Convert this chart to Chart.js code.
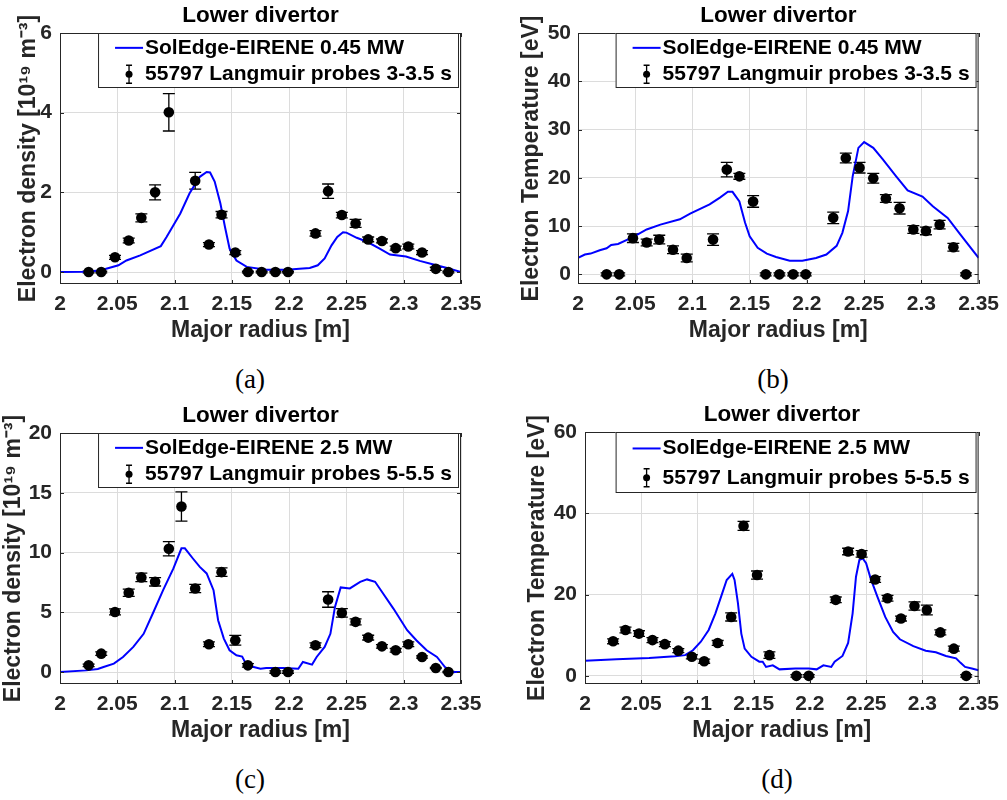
<!DOCTYPE html>
<html>
<head>
<meta charset="utf-8">
<title>Lower divertor profiles</title>
<script src="https://cdn.jsdelivr.net/npm/chart.js@4.4.1/dist/chart.umd.min.js"></script>
<style>
  body { margin: 0; background: #fff; }
  #wrap { position: relative; width: 1007px; height: 800px; overflow: hidden; }
  canvas { position: absolute; }
  .cap { position: absolute; font-family: "Liberation Serif", "DejaVu Serif", serif; font-size: 27px; color: #000; transform: translate(-50%, -50%); }
</style>
</head>
<body>
<div id="wrap">
  <canvas id="pa" width="500" height="360" style="left:0;top:0"></canvas>
  <canvas id="pb" width="507" height="360" style="left:500px;top:0"></canvas>
  <canvas id="pc" width="500" height="360" style="left:0;top:400px"></canvas>
  <canvas id="pd" width="507" height="360" style="left:500px;top:400px"></canvas>
  <div class="cap" style="left:250px;top:379px">(a)</div>
  <div class="cap" style="left:773px;top:379px">(b)</div>
  <div class="cap" style="left:250px;top:779px">(c)</div>
  <div class="cap" style="left:777px;top:779px">(d)</div>
</div>
<script>
// probe positions (major radius, m)
const probeR = [2.025, 2.036, 2.048, 2.060, 2.071, 2.083, 2.095, 2.106, 2.118, 2.130, 2.141, 2.153, 2.164, 2.176,
                2.188, 2.199, 2.211, 2.223, 2.234, 2.246, 2.258, 2.269, 2.281, 2.293, 2.304, 2.316, 2.328, 2.339];

// (a) density, 3-3.5 s
const neA    = [0, 0, 0.37, 0.79, 1.36, 2.0, 4.01, null, 2.29, 0.69, 1.44, 0.49, 0, 0, 0, 0, null, 0.97, 2.03, 1.43, 1.22, 0.82, 0.78, 0.6, 0.64, 0.49, 0.08, 0];
const neErrA = [0.02, 0.02, 0.05, 0.06, 0.1, 0.19, 0.47, null, 0.21, 0.05, 0.08, 0.05, 0.02, 0.02, 0.02, 0.02, null, 0.07, 0.18, 0.07, 0.1, 0.06, 0.05, 0.05, 0.06, 0.05, 0.04, 0.02];
// (b) temperature, 3-3.5 s
const teB    = [0, 0, 7.5, 6.6, 7.2, 5.1, 3.4, null, 7.2, 21.7, 20.3, 15.1, 0, 0, 0, 0, null, 11.7, 24.1, 22.1, 19.9, 15.7, 13.7, 9.3, 9.0, 10.3, 5.6, 0];
const teErrB = [0.3, 0.3, 0.9, 0.7, 0.9, 0.8, 0.8, null, 1.2, 1.5, 0.6, 1.2, 0.3, 0.3, 0.3, 0.3, null, 1.2, 1.0, 1.1, 1.0, 0.8, 1.2, 0.8, 0.8, 0.9, 0.8, 0.3];
// (c) density, 5-5.5 s
const neC    = [0.56, 1.54, 5.03, 6.63, 7.92, 7.55, 10.32, 13.85, 6.99, 2.32, 8.36, 2.66, 0.56, null, 0, 0, null, 2.24, 6.07, 4.95, 4.2, 2.88, 2.15, 1.82, 2.32, 1.26, 0.34, 0];
const neErrC = [0.1, 0.15, 0.25, 0.3, 0.35, 0.35, 0.6, 1.22, 0.35, 0.2, 0.35, 0.4, 0.15, null, 0.1, 0.1, null, 0.2, 0.65, 0.35, 0.25, 0.2, 0.15, 0.15, 0.2, 0.1, 0.05, 0.05];
// (d) temperature, 5-5.5 s
const teD    = [8.5, 11.3, 10.4, 8.8, 7.8, 6.2, 4.7, 3.6, 8.1, 14.5, 36.9, 24.8, 5.1, null, 0, 0, null, 18.7, 30.6, 30.0, 23.7, 19.1, 14.1, 17.2, 16.2, 10.7, 6.7, 0];
const teErrD = [0.6, 0.7, 0.7, 0.6, 0.6, 0.5, 0.5, 0.5, 0.6, 1.0, 1.1, 1.0, 0.8, null, 0.3, 0.3, null, 0.7, 0.8, 0.8, 0.7, 0.7, 0.6, 1.0, 1.2, 0.6, 0.6, 0.3];

// SolEdge-EIRENE profiles
const simRA  = [2.0, 2.02, 2.035, 2.051, 2.058, 2.07, 2.088, 2.093, 2.105, 2.113, 2.122, 2.128, 2.131, 2.135, 2.14, 2.144, 2.148, 2.154, 2.163, 2.18,
                2.198, 2.209, 2.218, 2.225, 2.231, 2.237, 2.242, 2.247, 2.25, 2.259, 2.268, 2.279, 2.288, 2.302, 2.314, 2.326, 2.337, 2.35];
const simNeA = [0, 0.01, 0.04, 0.17, 0.29, 0.42, 0.65, 0.88, 1.47, 1.97, 2.39, 2.51, 2.5, 2.27, 1.72, 1.13, 0.59, 0.29, 0.13, 0.06,
                0.06, 0.08, 0.1, 0.17, 0.34, 0.67, 0.88, 1.0, 0.99, 0.86, 0.76, 0.59, 0.44, 0.39, 0.28, 0.19, 0.11, 0];
const simRB  = [2.0, 2.006, 2.011, 2.019, 2.025, 2.029, 2.035, 2.048, 2.06, 2.072, 2.089, 2.098, 2.115, 2.124, 2.131, 2.135, 2.141, 2.146, 2.15, 2.157,
                2.165, 2.173, 2.185, 2.196, 2.208, 2.217, 2.226, 2.231, 2.236, 2.24, 2.245, 2.25, 2.258, 2.266, 2.278, 2.288, 2.301, 2.31, 2.323, 2.334, 2.35];
const simTeB = [3.4, 4.1, 4.3, 5.0, 5.4, 6.1, 6.3, 7.7, 9.3, 10.3, 11.4, 12.6, 14.5, 15.9, 17.1, 17.1, 15.1, 10.7, 7.9, 5.5,
                4.3, 3.6, 2.8, 2.8, 3.4, 4.1, 5.9, 8.6, 13.1, 20.3, 26.2, 27.4, 26.2, 23.9, 20.3, 17.4, 16.1, 14.1, 11.7, 8.3, 3.4];
const simRC  = [2.0, 2.023, 2.033, 2.038, 2.047, 2.055, 2.064, 2.073, 2.081, 2.09, 2.099, 2.106, 2.109, 2.116, 2.122, 2.128, 2.134, 2.138, 2.143, 2.148,
                2.154, 2.159, 2.163, 2.169, 2.175, 2.18, 2.195, 2.208, 2.212, 2.22, 2.224, 2.231, 2.236, 2.24, 2.245, 2.253, 2.262, 2.268, 2.275, 2.282,
                2.291, 2.303, 2.311, 2.32, 2.329, 2.336, 2.343, 2.35];
const simNeC = [0, 0.14, 0.25, 0.42, 0.7, 1.26, 2.1, 3.2, 4.9, 6.85, 8.67, 10.35, 10.35, 9.5, 8.8, 8.25, 6.85, 4.34, 2.8, 1.82,
                1.4, 1.3, 0.56, 0.42, 0.28, 0.34, 0.34, 0.28, 0.84, 0.62, 1.26, 2.1, 3.2, 5.45, 7.08, 7.0, 7.55, 7.75, 7.55, 6.57,
                5.31, 3.5, 2.66, 1.82, 1.26, 0.42, 0, 0];
const simRD  = [2.0, 2.028, 2.057, 2.08, 2.089, 2.096, 2.103, 2.11, 2.116, 2.122, 2.126, 2.131, 2.133, 2.136, 2.139, 2.142, 2.148, 2.155, 2.158, 2.161,
                2.167, 2.173, 2.187, 2.199, 2.206, 2.212, 2.219, 2.222, 2.229, 2.234, 2.238, 2.241, 2.244, 2.247, 2.25, 2.254, 2.26, 2.267, 2.274, 2.28,
                2.292, 2.303, 2.312, 2.321, 2.33, 2.334, 2.338, 2.344, 2.35];
const simTeD = [3.7, 4.1, 4.4, 4.8, 5.1, 6.3, 8.4, 11.3, 15.4, 20.3, 23.6, 25.1, 23.6, 17.9, 10.4, 6.7, 4.7, 3.5, 3.5, 2.2,
                2.6, 1.6, 1.8, 1.8, 1.6, 2.6, 2.2, 3.5, 4.9, 8.1, 15.4, 24.4, 28.5, 28.9, 27.7, 24.0, 19.5, 14.5, 10.8, 9.0,
                7.3, 6.2, 5.8, 4.9, 4.3, 3.2, 2.2, 1.8, 1.4];

// tick labels
const xTicks = [2, 2.05, 2.1, 2.15, 2.2, 2.25, 2.3, 2.35];
const yTicksNeLow = [0, 2, 4, 6];
const yTicksTeLow = [0, 10, 20, 30, 40, 50];
const yTicksNeHigh = [0, 5, 10, 15, 20];
const yTicksTeHigh = [0, 20, 40, 60];

const titleText = 'Lower divertor';
const xLabel = 'Major radius [m]';
const neLabel = 'Electron density [10\u00B9\u2079 m\u207B\u00B3]';
const teLabel = 'Electron Temperature [eV]';

const FONT = "'Liberation Sans', Arial, Helvetica, sans-serif";
Chart.defaults.font.family = FONT;

const decor = {
    id: 'decor',
    beforeDatasetsDraw(chart) {
        // error bars under the markers
        const ctx = chart.ctx;
        const meta = chart.getDatasetMeta(0);
        const ys = chart.scales.y;
        ctx.save();
        ctx.strokeStyle = '#000';
        ctx.lineWidth = 1.3;
        chart.data.datasets[0].data.forEach((d, i) => {
            const px = meta.data[i].x;
            const y1 = ys.getPixelForValue(d.y - d.e);
            const y2 = ys.getPixelForValue(d.y + d.e);
            ctx.beginPath();
            ctx.moveTo(px, y1); ctx.lineTo(px, y2);
            ctx.moveTo(px - 6, y1); ctx.lineTo(px + 6, y1);
            ctx.moveTo(px - 6, y2); ctx.lineTo(px + 6, y2);
            ctx.stroke();
        });
        ctx.restore();
    },
    afterDraw(chart, args, opts) {
        const ctx = chart.ctx;
        const ca = chart.chartArea;
        const xs = chart.scales.x, ys = chart.scales.y;
        ctx.save();

        // axes box with inward ticks
        ctx.strokeStyle = '#262626';
        ctx.lineWidth = 1;
        ctx.strokeRect(ca.left + 0.5, ca.top + 0.5, ca.right - ca.left - 1, ca.bottom - ca.top - 1);
        ctx.beginPath();
        xs.ticks.forEach(t => {
            const px = Math.round(xs.getPixelForValue(t.value)) + 0.5;
            ctx.moveTo(px, ca.bottom); ctx.lineTo(px, ca.bottom - 4);
            ctx.moveTo(px, ca.top); ctx.lineTo(px, ca.top + 4);
        });
        ys.ticks.forEach(t => {
            const py = Math.round(ys.getPixelForValue(t.value)) + 0.5;
            ctx.moveTo(ca.left, py); ctx.lineTo(ca.left + 4, py);
            ctx.moveTo(ca.right, py); ctx.lineTo(ca.right - 4, py);
        });
        ctx.stroke();

        // title
        ctx.fillStyle = '#000';
        ctx.font = 'bold 22.5px ' + FONT;
        ctx.textAlign = 'center';
        ctx.textBaseline = 'middle';
        ctx.fillText(titleText, (ca.left + ca.right) / 2, ca.top - 17);

        // legend
        const sim = chart.data.datasets[1].label;
        const exp = chart.data.datasets[0].label;
        ctx.font = 'bold 21px ' + FONT;
        const tw = Math.max(ctx.measureText(sim).width, ctx.measureText(exp).width);
        const h = opts.legendH;
        const right = ca.right - 2;
        const left = right - (tw + 54);
        const top = ca.top;
        ctx.fillStyle = '#fff';
        ctx.fillRect(left, top, right - left, h);
        ctx.strokeStyle = '#262626';
        ctx.strokeRect(left + 0.5, top + 0.5, right - left - 1, h - 1);
        const r1 = top + h * 0.27, r2 = top + h * 0.75;
        ctx.strokeStyle = '#0000ff';
        ctx.lineWidth = 2;
        ctx.beginPath();
        ctx.moveTo(left + 17, r1); ctx.lineTo(left + 45, r1);
        ctx.stroke();
        ctx.strokeStyle = '#000';
        ctx.lineWidth = 1.3;
        ctx.beginPath();
        ctx.moveTo(left + 31, r2 - 9); ctx.lineTo(left + 31, r2 + 9);
        ctx.moveTo(left + 28, r2 - 9); ctx.lineTo(left + 34, r2 - 9);
        ctx.moveTo(left + 28, r2 + 9); ctx.lineTo(left + 34, r2 + 9);
        ctx.stroke();
        ctx.fillStyle = '#000';
        ctx.beginPath();
        ctx.arc(left + 31, r2, 3.5, 0, Math.PI * 2);
        ctx.fill();
        ctx.textAlign = 'left';
        ctx.fillText(sim, left + 47, r1);
        ctx.fillText(exp, left + 47, r2);
        ctx.restore();
    }
};

function makePanel(id, p) {
    const points = [];
    probeR.forEach((r, i) => {
        if (p.vals[i] !== null) points.push({x: r, y: p.vals[i], e: p.errs[i]});
    });
    const simPts = p.simR.map((r, i) => ({x: r, y: p.simY[i]}));

    new Chart(document.getElementById(id), {
        type: 'scatter',
        data: {
            datasets: [{
                label: p.expLabel,
                data: points,
                pointRadius: 5.3,
                pointHoverRadius: 5.3,
                pointBorderWidth: 0,
                backgroundColor: '#000',
                borderColor: '#000'
            }, {
                label: p.simLabel,
                data: simPts,
                showLine: true,
                pointRadius: 0,
                borderColor: '#0000ff',
                borderWidth: 2,
                tension: 0
            }]
        },
        options: {
            responsive: false,
            animation: false,
            events: [],
            layout: { padding: p.pad },
            plugins: {
                legend: { display: false },
                tooltip: { enabled: false },
                decor: { legendH: p.legendH }
            },
            scales: {
                x: {
                    type: 'linear',
                    min: 2,
                    max: 2.35,
                    afterBuildTicks: s => { s.ticks = xTicks.map(v => ({value: v})); },
                    afterFit: s => { s.height = 58; },
                    grid: { color: '#dcdcdc', drawTicks: false },
                    border: { display: false },
                    ticks: {
                        padding: 8, autoSkip: false, maxRotation: 0,
                        color: '#262626', font: { size: 21, weight: 'bold' },
                        callback: v => String(v)
                    },
                    title: {
                        display: true, text: xLabel, color: '#262626', padding: 0,
                        font: { size: 23, weight: 'bold', lineHeight: 1 }
                    }
                },
                y: {
                    type: 'linear',
                    min: p.yMin,
                    max: p.yMax,
                    afterBuildTicks: s => { s.ticks = p.yTicks.map(v => ({value: v})); },
                    afterFit: s => { s.width = p.yWidth; },
                    grid: { color: '#dcdcdc', drawTicks: false },
                    border: { display: false },
                    ticks: {
                        padding: p.yTickPad, color: '#262626',
                        font: { size: 21, weight: 'bold' },
                        callback: v => String(v)
                    },
                    title: {
                        display: true, text: p.yLabel, color: '#262626',
                        padding: { top: p.yTitlePad, bottom: 0 },
                        font: { size: 23, weight: 'bold', lineHeight: 1 }
                    }
                }
            }
        },
        plugins: [decor]
    });
}

makePanel('pa', {
    vals: neA, errs: neErrA, simR: simRA, simY: simNeA,
    simLabel: 'SolEdge-EIRENE 0.45 MW', expLabel: '55797 Langmuir probes 3-3.5 s',
    yLabel: neLabel, yMin: -0.3, yMax: 6, yTicks: yTicksNeLow,
    pad: { left: 0, right: 39, top: 33, bottom: 18 }, yWidth: 60, yTickPad: 8, yTitlePad: 17, legendH: 55
});
makePanel('pb', {
    vals: teB, errs: teErrB, simR: simRB, simY: simTeB,
    simLabel: 'SolEdge-EIRENE 0.45 MW', expLabel: '55797 Langmuir probes 3-3.5 s',
    yLabel: teLabel, yMin: -2, yMax: 50, yTicks: yTicksTeLow,
    pad: { left: 0, right: 28, top: 33, bottom: 18 }, yWidth: 78, yTickPad: 7, yTitlePad: 20, legendH: 55
});
makePanel('pc', {
    vals: neC, errs: neErrC, simR: simRC, simY: simNeC,
    simLabel: 'SolEdge-EIRENE 2.5 MW', expLabel: '55797 Langmuir probes 5-5.5 s',
    yLabel: neLabel, yMin: -1, yMax: 20, yTicks: yTicksNeHigh,
    pad: { left: 0, right: 39, top: 33, bottom: 18 }, yWidth: 60, yTickPad: 8, yTitlePad: 2, legendH: 55
});
makePanel('pd', {
    vals: teD, errs: teErrD, simR: simRD, simY: simTeD,
    simLabel: 'SolEdge-EIRENE 2.5 MW', expLabel: '55797 Langmuir probes 5-5.5 s',
    yLabel: teLabel, yMin: -2, yMax: 60, yTicks: yTicksTeHigh,
    pad: { left: 0, right: 20, top: 32, bottom: 18 }, yWidth: 85, yTickPad: 8, yTitlePad: 26, legendH: 61
});
</script>
</body>
</html>
